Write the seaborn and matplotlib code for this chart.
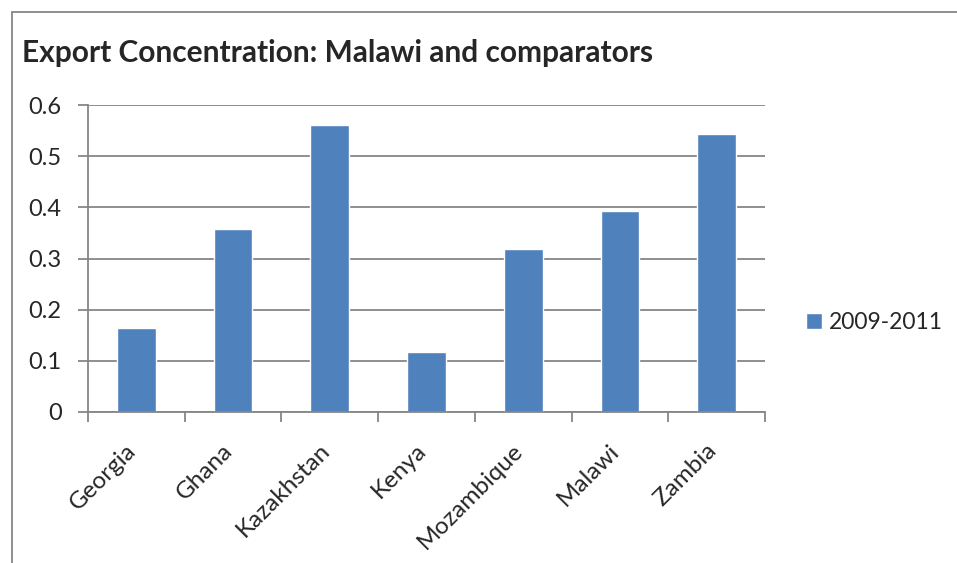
import pandas as pd
import seaborn as sns
from matplotlib import pyplot as plt
from matplotlib.patches import Rectangle
from matplotlib.transforms import ScaledTranslation

countries = ['Georgia', 'Ghana', 'Kazakhstan', 'Kenya', 'Mozambique', 'Malawi', 'Zambia']
concentration = [0.165, 0.358, 0.560, 0.117, 0.318, 0.392, 0.544]
period = '2009-2011'
y_ticks = [0, 0.1, 0.2, 0.3, 0.4, 0.5, 0.6]

df = pd.DataFrame({'country': countries, 'value': concentration, 'period': period})

sns.set_style('white')
plt.rcParams['font.family'] = ['Lato', 'DejaVu Sans']

grey = '#868686'
fig = plt.figure(figsize=(9.57, 5.63), dpi=100)
ax = fig.add_axes([88 / 957, 1 - 412 / 563, (765 - 88) / 957, (412 - 105) / 563])

sns.barplot(data=df, x='country', y='value', hue='period', palette=['#4F81BD'],
            width=0.4, ax=ax, saturation=1)

ax.set_ylim(0, 0.6)
ax.set_xlim(-0.5, len(countries) - 0.5)
ax.set_yticks(y_ticks)
ax.set_yticklabels(['0' if v == 0 else f'{v:.1f}' for v in y_ticks], fontsize=17)
for v in y_ticks:
    ax.axhline(v, color=grey, lw=1.3, zorder=0)

ax.set_xticks(range(len(countries)))
ax.set_xticklabels(countries, fontsize=17.5, rotation=45, ha='right', rotation_mode='anchor')
ax.tick_params(axis='x', which='major', length=0, pad=20)
for lab in ax.get_xticklabels():
    lab.set_transform(lab.get_transform() + ScaledTranslation(-0.11, 0, fig.dpi_scale_trans))
ax.set_xticks([i - 0.5 for i in range(len(countries) + 1)], minor=True)
ax.tick_params(axis='x', which='minor', length=7, color=grey, width=1.3, direction='out')
ax.tick_params(axis='y', length=7, color=grey, width=1.3, direction='out', pad=12)
ax.xaxis.set_ticks_position('bottom')
ax.yaxis.set_ticks_position('left')

for s in ['top', 'right']:
    ax.spines[s].set_visible(False)
for s in ['left', 'bottom']:
    ax.spines[s].set_color(grey)
    ax.spines[s].set_linewidth(1.3)

ax.set_xlabel('')
ax.set_ylabel('')

ax.legend(loc='center left', bbox_to_anchor=(1.06, 0.29), frameon=False, fontsize=16.5,
          borderpad=0, borderaxespad=0, handlelength=0.7, handleheight=0.7, handletextpad=0.3)

fig.text(22 / 957, 1 - 53 / 563, 'Export Concentration: Malawi and comparators',
         fontsize=21.5, fontweight='bold', va='center', ha='left')

fig.patches.append(Rectangle((12 / 957, -0.1), 1.2, 1 - 12 / 563 + 0.1, transform=fig.transFigure,
                             fill=False, edgecolor=grey, lw=1.3))

fig.savefig('out.png', dpi=100)
